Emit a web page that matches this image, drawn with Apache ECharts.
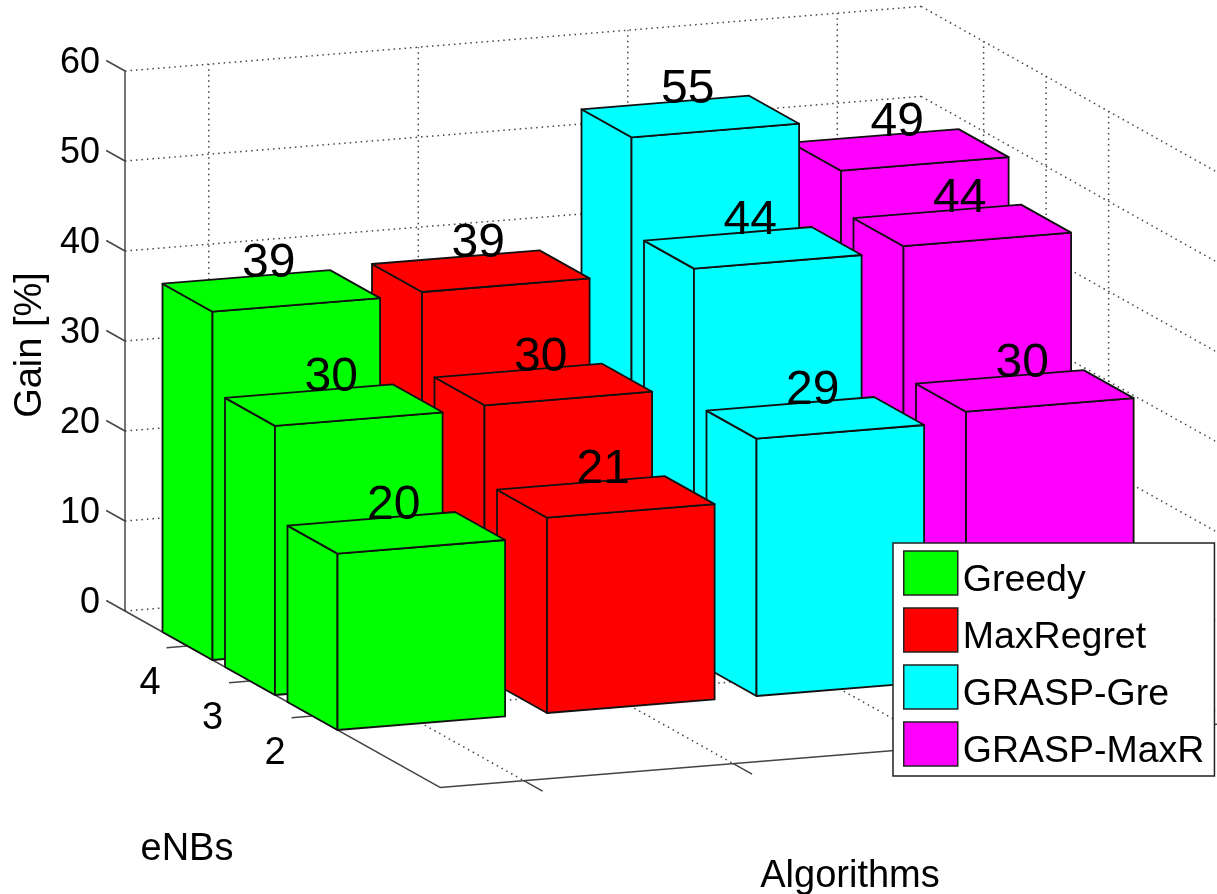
<!DOCTYPE html>
<html>
<head>
<meta charset="utf-8">
<title>Gain per algorithm and eNB count</title>
<script src="https://cdn.jsdelivr.net/npm/echarts@6/dist/echarts.min.js"></script>
<style>
  html, body { margin: 0; padding: 0; background: #fff; }
  #chart { width: 1217px; height: 894px; }
</style>
</head>
<body>
<div id="chart"></div>
<script>
// data, bars are drawn from back row to front row
const algorithms = ['Greedy', 'MaxRegret', 'GRASP-Gre', 'GRASP-MaxR'];
const eNBs = [4, 3, 2];
const gainTicks = [0, 10, 20, 30, 40, 50, 60];
const greedyGain = [38.7, 29.9, 19.6];
const maxRegretGain = [39, 30.3, 21.7];
const graspGreGain = [54.3, 43.6, 28.6];
const graspMaxRGain = [48.7, 44.2, 29.7];
// the numbers printed over the bars
const greedyLabels = [39, 30, 20];
const maxRegretLabels = [39, 30, 21];
const graspGreLabels = [55, 44, 29];
const graspMaxRLabels = [49, 44, 30];
const colors = ['#00ff00', '#ff0000', '#00ffff', '#ff00ff'];

const gains = [greedyGain, maxRegretGain, graspGreGain, graspMaxRGain];
const labels = [greedyLabels, maxRegretLabels, graspGreLabels, graspMaxRLabels];

// oblique view: x axis counts pixels, y axis counts gain
const gainPx = 9;
const algStepX = 209.5, algStepRise = 17;
const depthStepX = 62.5, depthStepDrop = 35;
const algMin = 0.6, algMax = 4.4, depthMax = 5.04, barHalf = 0.4;

function project(api, alg, depth, gain) {
  const a = alg - algMin;
  return api.coord([
    a * algStepX + depth * depthStepX,
    gain + (a * algStepRise - depth * depthStepDrop) / gainPx
  ]);
}

function renderBar(color) {
  return function (params, api) {
    const alg = api.value(0), depth = 5 - api.value(1), gain = api.value(2);
    const l = alg - barHalf, r = alg + barHalf;
    const b = depth - barHalf, f = depth + barHalf;
    const style = { fill: color, stroke: '#111', lineWidth: 1.8, lineJoin: 'round' };
    const p = (x, y, z) => project(api, x, y, z);
    const mid = p(alg, depth, gain);
    return {
      type: 'group',
      children: [
        { type: 'polygon', shape: { points: [p(l, b, 0), p(l, f, 0), p(l, f, gain), p(l, b, gain)] }, style: style },
        { type: 'polygon', shape: { points: [p(l, f, 0), p(r, f, 0), p(r, f, gain), p(l, f, gain)] }, style: style },
        { type: 'polygon', shape: { points: [p(l, b, gain), p(l, f, gain), p(r, f, gain), p(r, b, gain)] }, style: style },
        {
          type: 'text',
          x: mid[0] - 2.5,
          y: mid[1] - 27,
          style: {
            text: String(api.value(3)),
            font: '48px "Liberation Sans"',
            fill: '#000',
            align: 'center',
            verticalAlign: 'middle'
          }
        }
      ]
    };
  };
}

function renderFrame(params, api) {
  const children = [];
  const dotted = { stroke: '#444', lineWidth: 1.5, lineDash: [1.5, 4] };
  const solid = { stroke: '#444', lineWidth: 1.5 };
  const line = (p, q, style) => children.push({
    type: 'line',
    shape: { x1: p[0], y1: p[1], x2: q[0], y2: q[1] },
    style: style
  });
  const p = (a, d, z) => project(api, a, d, z);

  gainTicks.forEach(function (z) {
    line(p(algMin, 0, z), p(algMax, 0, z), dotted);
    line(p(algMax, 0, z), p(algMax, depthMax, z), dotted);
    line(p(algMin, 0, z), p(algMin, -0.3, z), solid);
  });
  algorithms.forEach(function (name, i) {
    const a = i + 1;
    line(p(a, 0, 0), p(a, 0, 60), dotted);
    line(p(a, 0, 0), p(a, depthMax, 0), dotted);
    line(p(a, depthMax, 0), p(a, depthMax + 0.3, 0), solid);
  });
  eNBs.forEach(function (enb) {
    const d = 5 - enb;
    line(p(algMin, d, 0), p(algMax, d, 0), dotted);
    line(p(algMax, d, 0), p(algMax, d, 60), dotted);
    const tick = p(algMin - 0.1, d, 0);
    line(p(algMin, d, 0), tick, solid);
    children.push({
      type: 'text',
      x: tick[0] - 16.5,
      y: tick[1] + 36,
      style: {
        text: String(enb),
        font: '38px "Liberation Sans"',
        fill: '#000',
        align: 'center',
        verticalAlign: 'middle'
      }
    });
  });
  line(p(algMin, 0, 0), p(algMin, depthMax, 0), solid);
  line(p(algMin, depthMax, 0), p(algMax, depthMax, 0), solid);
  return { type: 'group', children: children };
}

const chart = echarts.init(document.getElementById('chart'));

const barSeries = algorithms.map(function (name, i) {
  return {
    name: name,
    type: 'custom',
    z: 10 - i,
    silent: true,
    itemStyle: { color: colors[i] },
    renderItem: renderBar(colors[i]),
    data: eNBs.map((enb, k) => [i + 1, enb, gains[i][k], labels[i][k]])
  };
});

chart.setOption({
  animation: false,
  backgroundColor: '#fff',
  textStyle: { fontFamily: 'Liberation Sans' },
  grid: { left: 125, top: 71, width: 1092, height: 540, outerBoundsMode: 'none' },
  xAxis: { type: 'value', min: 0, max: 1092, show: false },
  yAxis: {
    type: 'value',
    min: 0,
    max: 60,
    interval: 10,
    name: 'Gain [%]',
    nameLocation: 'middle',
    nameRotate: 90,
    nameGap: 66,
    nameTextStyle: { fontSize: 38, color: '#000', padding: [0, 8, 0, 0] },
    axisLine: { show: true, lineStyle: { color: '#444', width: 1.5 } },
    axisTick: { show: false },
    splitLine: { show: false },
    axisLabel: {
      margin: 25,
      fontSize: 36,
      color: '#000',
      verticalAlign: 'bottom',
      lineHeight: 16
    }
  },
  legend: {
    data: algorithms,
    orient: 'vertical',
    left: 893,
    top: 543,
    z: 20,
    padding: [3, 10, 5, 10],
    itemWidth: 54,
    itemHeight: 44,
    itemGap: 3,
    icon: 'rect',
    backgroundColor: '#fff',
    borderColor: '#222',
    borderWidth: 1.5,
    borderRadius: 0,
    selectedMode: false,
    itemStyle: { borderColor: '#222', borderWidth: 1.5 },
    // blank first line pushes the name down next to its swatch
    formatter: name => '\n' + name,
    textStyle: { fontSize: 37.5, color: '#000', lineHeight: 16 }
  },
  graphic: [
    { type: 'text', x: 187, y: 850, style: { text: 'eNBs', font: '38px "Liberation Sans"', fill: '#000', align: 'center', verticalAlign: 'middle' } },
    { type: 'text', x: 850, y: 877, style: { text: 'Algorithms', font: '38px "Liberation Sans"', fill: '#000', align: 'center', verticalAlign: 'middle' } }
  ],
  series: [
    { type: 'custom', name: 'frame', z: 1, silent: true, renderItem: renderFrame, data: [[0, 0]] }
  ].concat(barSeries)
});
</script>
</body>
</html>
